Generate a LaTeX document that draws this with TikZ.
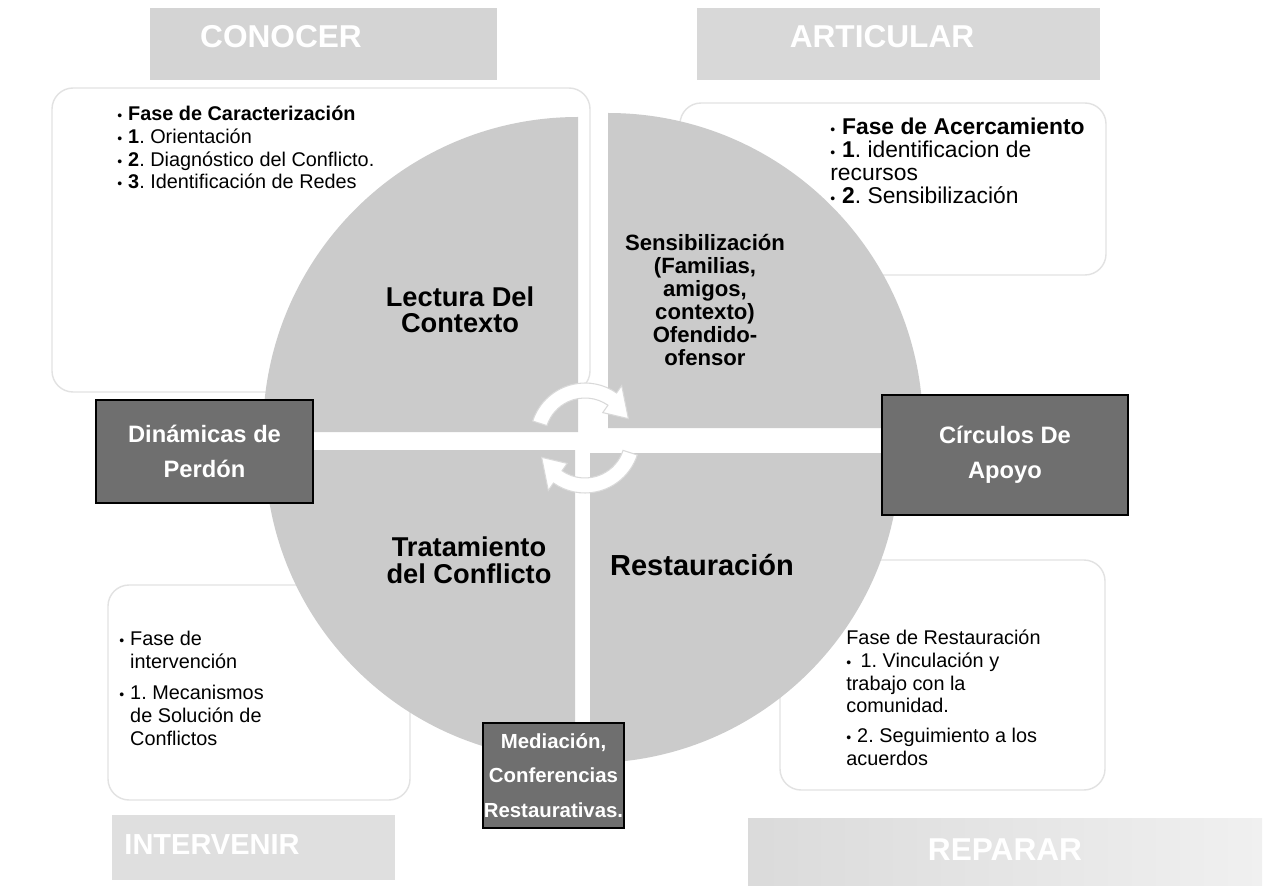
\documentclass[tikz,border=0pt]{standalone}
\usepackage{fontspec}
\setmainfont{Liberation Sans}
\frenchspacing
\definecolor{quadc}{HTML}{CBCBCB}
\definecolor{darkc}{HTML}{6F6F6F}
\definecolor{bannerc}{HTML}{D4D4D4}
\definecolor{faintc}{HTML}{E2E2E2}
\newcommand\bul{{\fontsize{8}{8}\selectfont\textbullet}\hspace{0.3em}}
\newcommand\bulsp{\phantom{\bul}}
\begin{document}
\begin{tikzpicture}[x=0.02cm,y=0.02cm,
  quadrant/.style={fill=quadc},
  textbox/.style={draw=faintc, line width=0.8pt, fill=white, rounded corners=12pt},
  bodytext/.style={anchor=north west, inner sep=0pt, align=left, font=\fontsize{11.3}{12.9}\selectfont},
  qlabel/.style={align=center, inner sep=0pt, font=\bfseries\fontsize{15.5}{15}\selectfont},
  darkbox/.style={draw=black, line width=1.5pt, fill=darkc, text=white, align=center, inner sep=0pt,
     font=\bfseries\fontsize{13.5}{20}\selectfont},
  banner/.style={fill=bannerc, inner sep=0pt},
  bannertext/.style={text=white, font=\bfseries\fontsize{18}{18}\selectfont, inner sep=0pt},
  cyclearrow/.style={fill=white, draw=black!15, line width=0.6pt}]
\useasboundingbox (0,0) rectangle (1270,890);
\fill[white] (0,0) rectangle (1270,890);

% text boxes (behind)
\draw[textbox] (52,498) rectangle (590,802);
\draw[textbox] (680,615) rectangle (1106,787);
\draw[textbox] (108,90) rectangle (410,305);
\draw[textbox] (780,100) rectangle (1105,330);

% quadrants
\fill[quadrant] (578,458) -- ++(90:315) arc[start angle=90,end angle=180,radius=315] -- cycle;
\fill[quadrant] (608,462) -- ++(0:315) arc[start angle=0,end angle=90,radius=315] -- cycle;
\fill[quadrant] (575,440) -- ++(180:310) arc[start angle=180,end angle=270,radius=310] -- cycle;
\fill[quadrant] (590,437) -- ++(270:310) arc[start angle=270,end angle=360,radius=310] -- cycle;

% quadrant labels
\node[qlabel] (lectura) at (460,580) {Lectura Del\\Contexto};
\node[qlabel, font=\bfseries\fontsize{12.6}{13.1}\selectfont] (sensib) at (705,590)
  {Sensibilización\\(Familias,\\amigos,\\contexto)\\Ofendido-\\ofensor};
\node[qlabel, font=\bfseries\fontsize{15.5}{15.5}\selectfont] (tratamiento) at (469,330) {Tratamiento\\del Conflicto};
\node[qlabel, font=\bfseries\fontsize{16.5}{16.5}\selectfont] (restauracion) at (702,325) {Restauración};

% cycle arrows
\begin{scope}[shift={(585,452)}]
  \path[cyclearrow] (162:55) arc[start angle=162,end angle=55,radius=55] -- (55:64) -- (24:47.5)
     -- (55:31) -- (55:40) arc[start angle=55,end angle=162,radius=40] -- cycle;
  \path[cyclearrow, rotate=180] (162:55) arc[start angle=162,end angle=55,radius=55] -- (55:64) -- (24:47.5)
     -- (55:31) -- (55:40) arc[start angle=55,end angle=162,radius=40] -- cycle;
\end{scope}

% body texts
\node[bodytext] (tltext) at (117,784) {\bul\textbf{Fase de Caracterización}\\
  \bul\textbf{1}. Orientación\\
  \bul\textbf{2}. Diagnóstico del Conflicto.\\
  \bul\textbf{3}. Identificación de Redes};
\node[bodytext, font=\fontsize{13}{13.1}\selectfont] (trtext) at (830,772) {\bul\textbf{Fase de Acercamiento}\\
  \bul\textbf{1}. identificacion de\\
  recursos\\
  \bul\textbf{2}. Sensibilización};
\node[bodytext] (bltext) at (119,259) {\bul Fase de\\
  \bulsp intervención\\[5pt]
  \bul 1. Mecanismos\\
  \bulsp de Solución de\\
  \bulsp Conflictos};
\node[bodytext] (brtext) at (846,260) {Fase de Restauración\\
  \bul\,1. Vinculación y\\
  trabajo con la\\
  comunidad.\\[4pt]
  \bul 2. Seguimiento a los\\
  acuerdos};

% dark boxes
\node[darkbox, minimum width=4.34cm, minimum height=2.06cm] (dinamicas) at (204.5,438.5) {Dinámicas de\\Perdón};
\node[darkbox, minimum width=4.92cm, minimum height=2.4cm] (circulos) at (1005,435) {Círculos De\\Apoyo};
\node[darkbox, minimum width=2.82cm, minimum height=2.1cm, font=\bfseries\fontsize{11.6}{19.5}\selectfont] (mediacion) at (553.5,114.5) {Mediación,\\Conferencias\\Restaurativas.};

% banners
\node[banner, minimum width=6.94cm, minimum height=1.44cm] (conocerbar) at (323.5,846) {};
\node[bannertext] (conocer) at (281,853) {CONOCER};
\node[banner, fill=bannerc!90, minimum width=8.06cm, minimum height=1.44cm] (articularbar) at (898.5,846) {};
\node[bannertext] (articular) at (882,853) {ARTICULAR};
\node[banner, fill=bannerc!75, minimum width=5.66cm, minimum height=1.3cm] (intervenirbar) at (253.5,42.5) {};
\node[bannertext, font=\bfseries\fontsize{16.5}{16.5}\selectfont] (intervenir) at (212,45) {INTERVENIR};
\shade[left color=bannerc!85, right color=bannerc!35] (748,5) rectangle (1262,72);
\node[bannertext] (reparar) at (1005,40) {REPARAR};
\end{tikzpicture}
\end{document}
